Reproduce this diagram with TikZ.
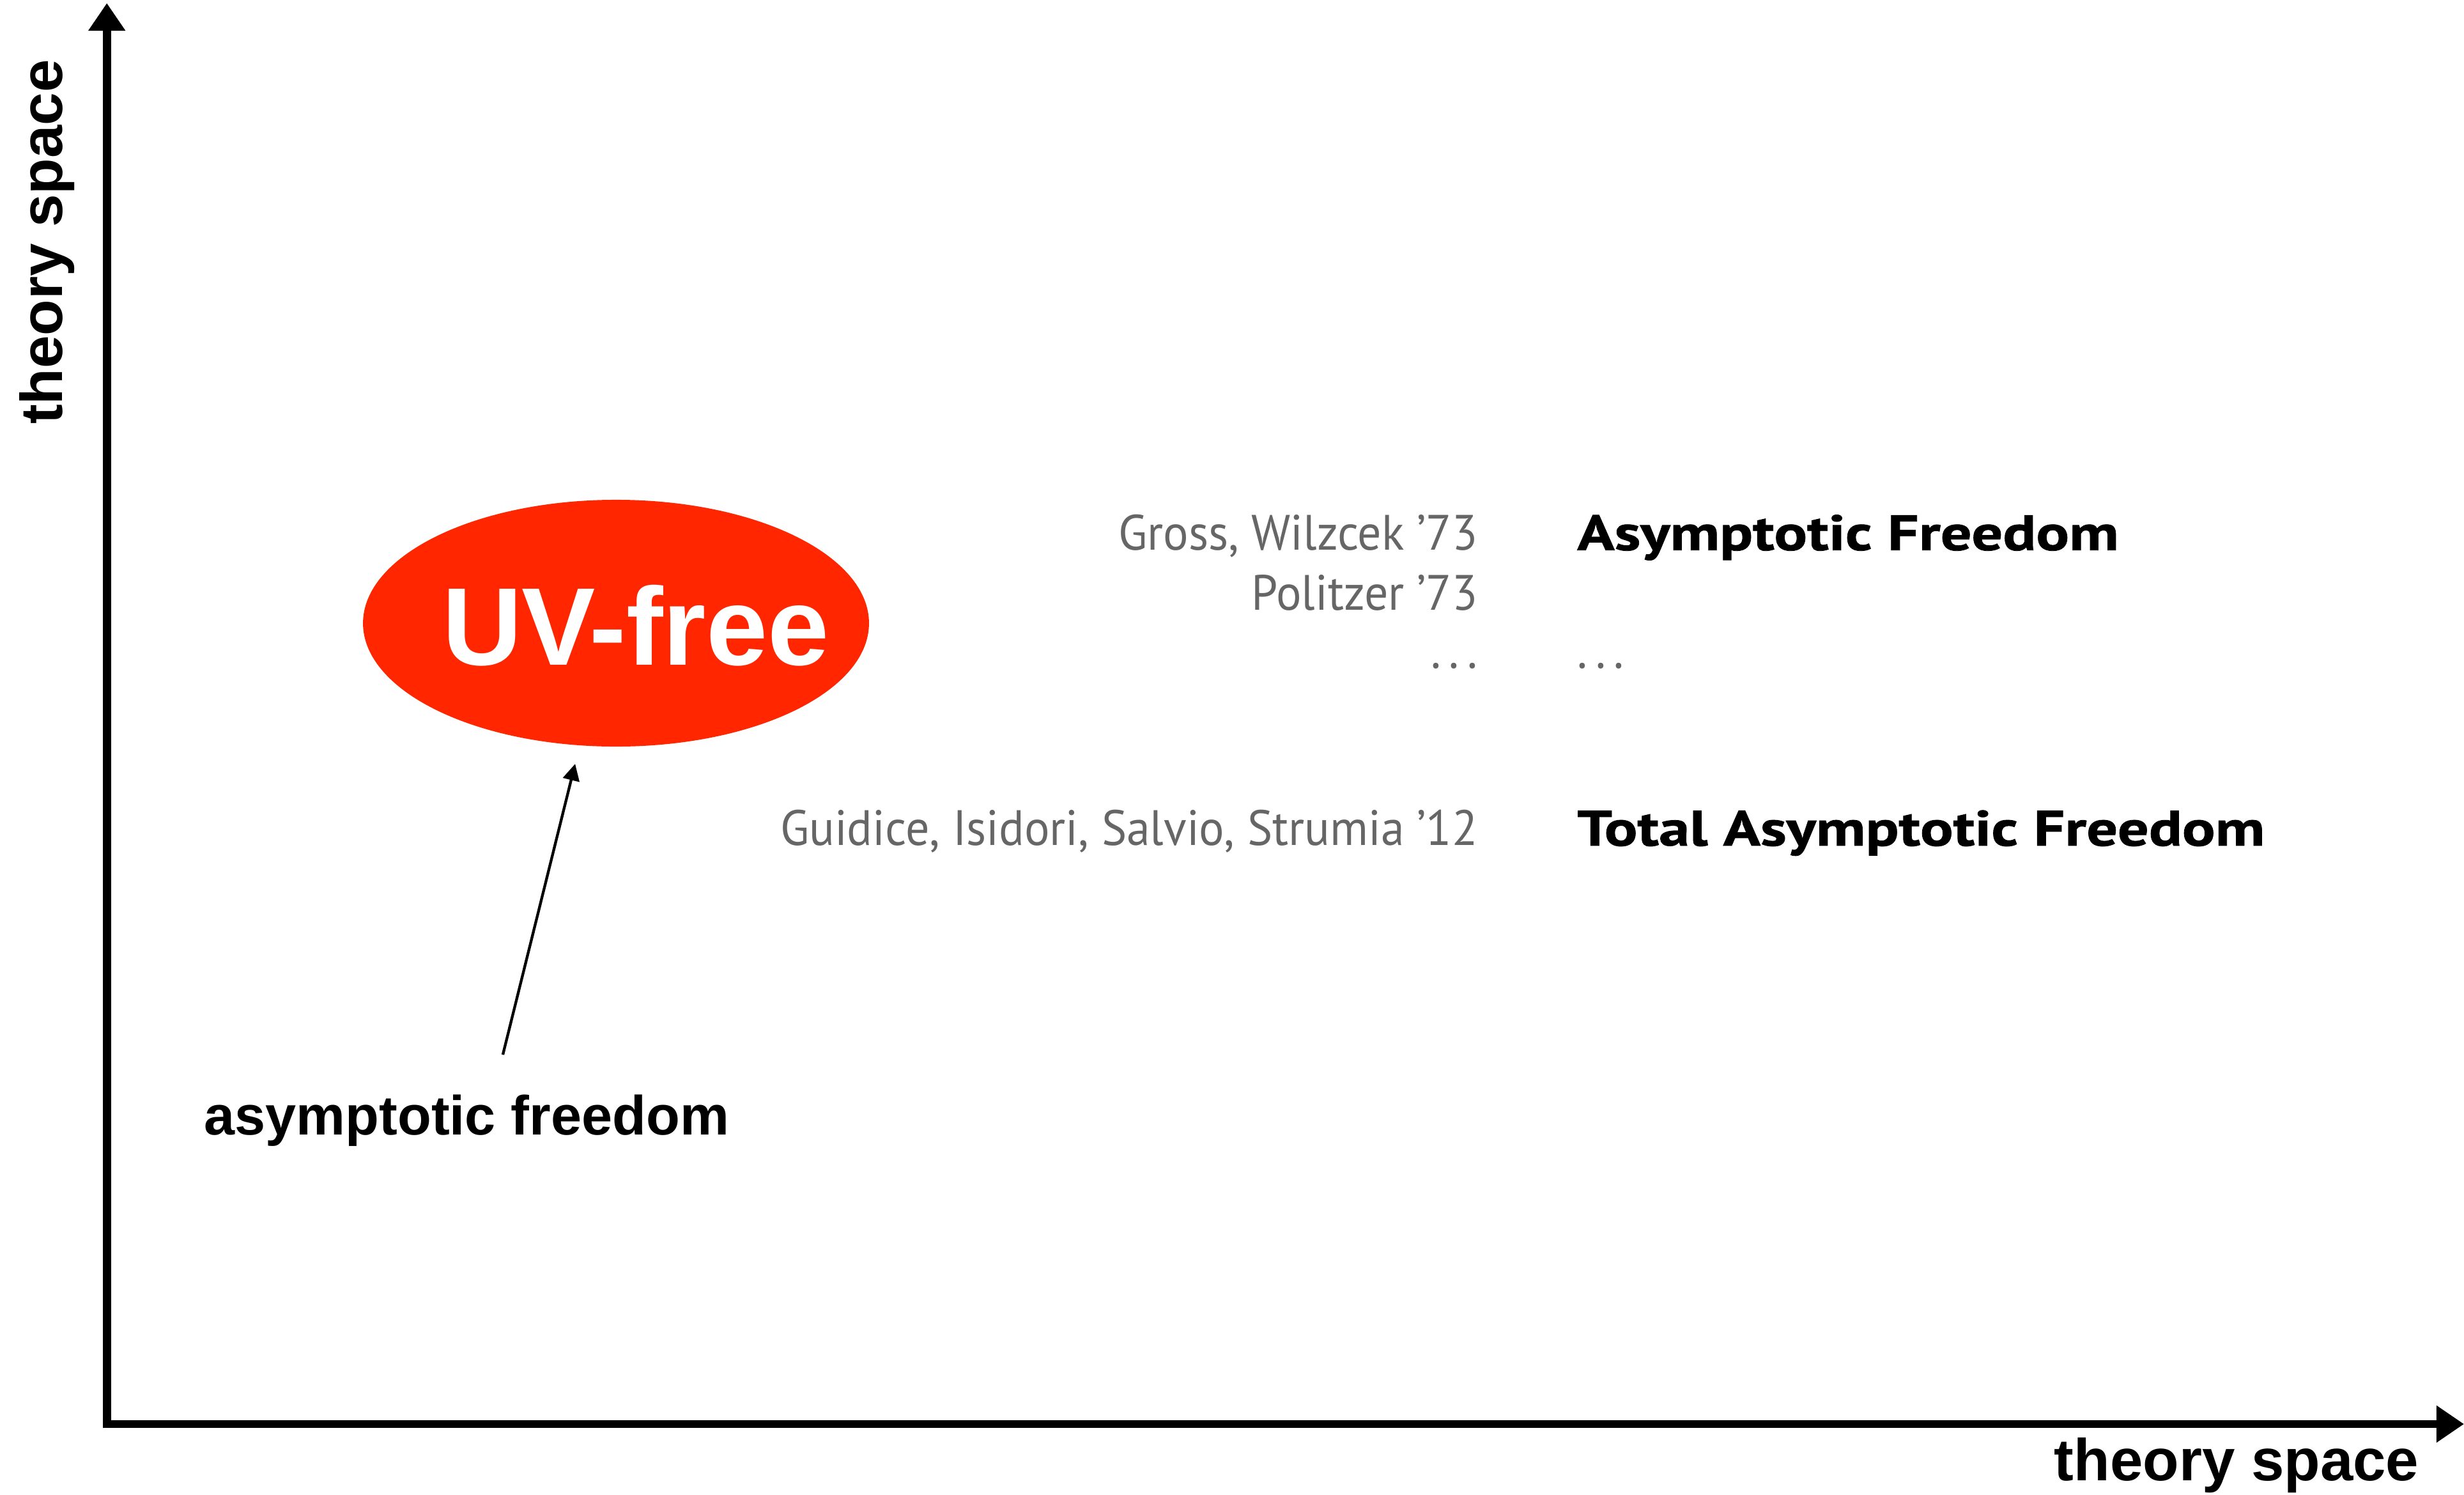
\documentclass[tikz,border=0pt]{standalone}
\usepackage{fontspec}
\setmainfont{Liberation Sans}
\newfontfamily\gillfont{PT Sans}[FakeStretch=0.95,BoldFeatures={FakeStretch=1.24,FakeBold=1}]
\usetikzlibrary{arrows.meta,positioning,shapes.geometric}
\definecolor{uvred}{HTML}{FF2600}
\definecolor{citegray}{HTML}{666666}
\tikzset{
  axis/.style={line width=1.5pt,-{Triangle[length=5pt,width=6.4pt]}},
  axislabel/.style={font=\fontsize{10.7}{12}\selectfont\bfseries,inner sep=0pt},
  uvblob/.style={ellipse,fill=uvred,minimum width=3.22cm,minimum height=1.57cm,inner sep=0pt},
  uvlabel/.style={font=\fontsize{20}{24}\selectfont\bfseries,text=white,inner sep=0pt},
  citation/.style={font=\gillfont\fontsize{9}{11}\selectfont,text=citegray,anchor=base east,inner sep=0pt},
  papername/.style={font=\gillfont\fontsize{9}{11}\selectfont\bfseries,anchor=base west,inner sep=0pt},
  pointer/.style={line width=0.5pt,-{Triangle[length=3pt,width=3pt]}}
}

\begin{document}
\begin{tikzpicture}
  \useasboundingbox (0,0) rectangle (15.68,9.51);
  \coordinate (origin) at (0.68,0.45);
  \coordinate (ytip) at (0.68,9.49);
  \coordinate (xtip) at (15.68,0.45);
  \draw[axis] ([yshift=-0.75pt]origin) -- (ytip);
  \draw[axis] ([xshift=-0.75pt]origin) -- (xtip);
  \node[axislabel,rotate=90] (ylabel) at (0.30,7.97) {theory space};
  \node[axislabel,anchor=base east] (xlabel) at (15.40,0.09) {theory space};

  \node[uvblob] (uv) at (3.92,5.545) {};
  \node[uvlabel,anchor=base] (uvtext) at (4.045,5.28) {UV-free};
  \node[axislabel,font=\fontsize{10}{12}\selectfont\bfseries,anchor=base] (aflabel) at (2.97,2.29) {asymptotic freedom};
  \coordinate (aftail) at (3.20,2.80);
  \coordinate (afhead) at (3.66,4.65);
  \draw[pointer] (aftail) -- (afhead);

  \node[citation] (gw) at (9.41,6.01) {Gross, Wilzcek ’73};
  \node[citation] (pol) at (9.41,5.63) {Politzer ’73};
  \node[citation] (dotsl) at (9.41,5.26) {.\,.\,.};
  \node[citation] (giss) at (9.41,4.13) {Guidice, Isidori, Salvio, Strumia ’12};
  \node[papername] (af) at (10.03,6.01) {Asymptotic Freedom};
  \node[papername,font=\gillfont\fontsize{9}{11}\selectfont,text=citegray] (dotsr) at (10.03,5.26) {.\,.\,.};
  \node[papername] (taf) at (10.03,4.13) {Total Asymptotic Freedom};
\end{tikzpicture}
\end{document}
